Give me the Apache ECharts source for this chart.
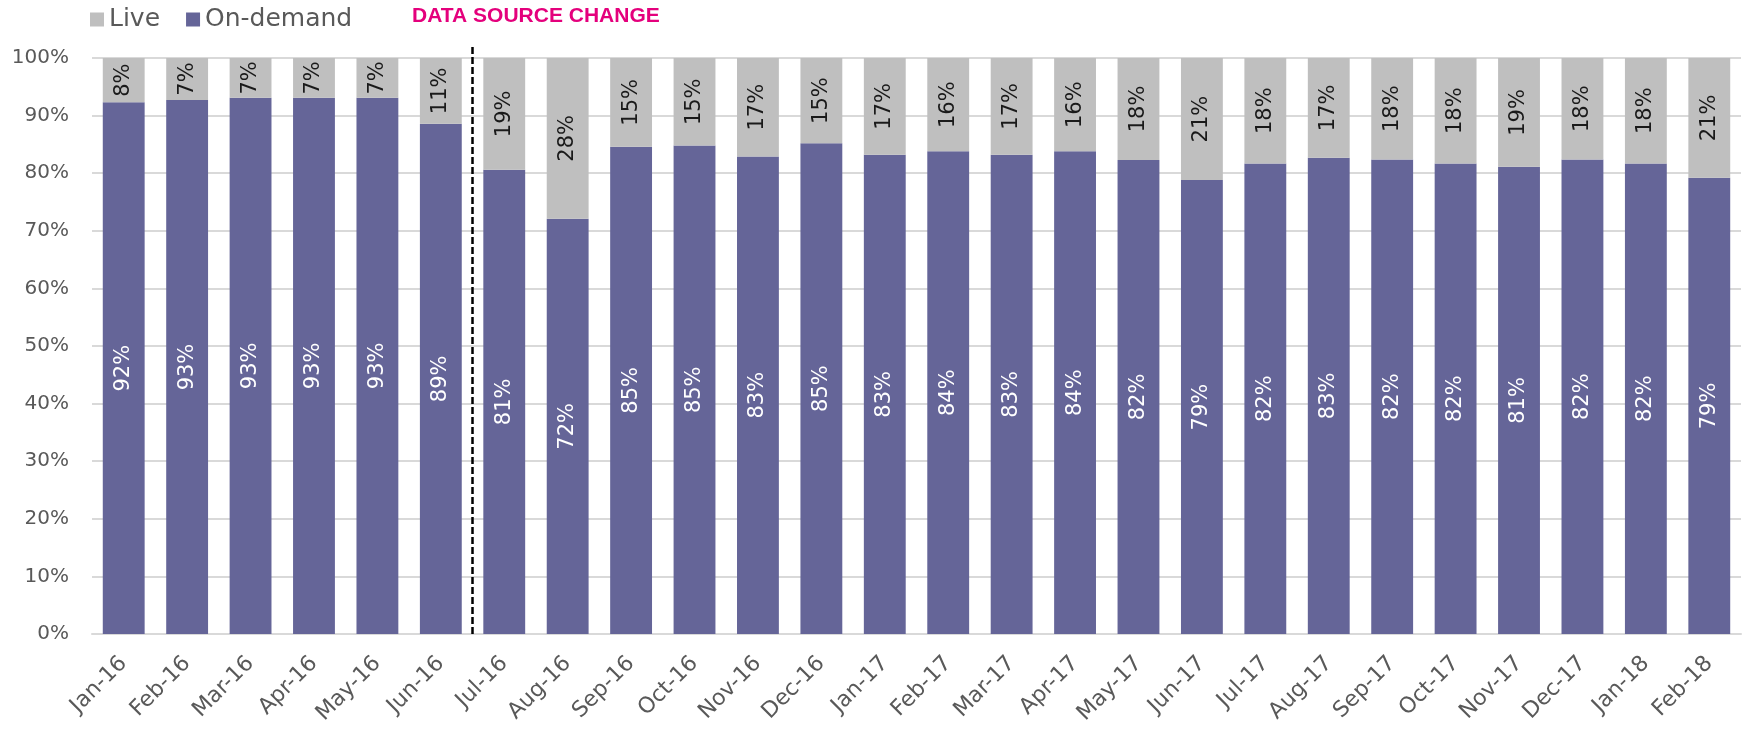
<!DOCTYPE html>
<html>
<head>
<meta charset="utf-8">
<script src="https://cdn.jsdelivr.net/npm/echarts@6/dist/echarts.min.js"></script>
<style>
html,body{margin:0;padding:0;background:#fff;}
#chart{width:1744px;height:733px;}
</style>
</head>
<body>
<div id="chart"></div>
<script>
const categories = ['Jan-16','Feb-16','Mar-16','Apr-16','May-16','Jun-16','Jul-16','Aug-16','Sep-16','Oct-16','Nov-16','Dec-16','Jan-17','Feb-17','Mar-17','Apr-17','May-17','Jun-17','Jul-17','Aug-17','Sep-17','Oct-17','Nov-17','Dec-17','Jan-18','Feb-18'];
const onDemand = [92.3,92.7,93.1,93.1,93.1,88.6,80.6,72.1,84.6,84.8,82.9,85.2,83.2,83.8,83.2,83.8,82.3,78.8,81.7,82.7,82.4,81.7,81.1,82.4,81.7,79.2];
const live = [7.7,7.3,6.9,6.9,6.9,11.4,19.4,27.9,15.4,15.2,17.1,14.8,16.8,16.2,16.8,16.2,17.7,21.2,18.3,17.3,17.6,18.3,18.9,17.6,18.3,20.8];
const yTicks = [0,10,20,30,40,50,60,70,80,90,100];
const changeIndex = 6; // data source change occurs before Jul-16
const changeLabel = 'DATA SOURCE CHANGE';

const FONT = 'DejaVu Sans';
const chart = echarts.init(document.getElementById('chart'));
chart.setOption({
  animation: false,
  textStyle: { fontFamily: FONT },
  title: {
    text: changeLabel,
    left: 407, top: 1,
    textStyle: { color: '#E4007C', fontWeight: 'bold', fontSize: 21, fontFamily: 'Liberation Sans' }
  },
  legend: {
    left: 85, top: 2,
    itemWidth: 14, itemHeight: 14, itemGap: 26,
    icon: 'rect',
    data: ['Live', 'On-demand'],
    textStyle: { color: '#595959', fontSize: 25, fontFamily: FONT, padding: [0,0,0,0] }
  },
  grid: [
    { left: 92, right: 3, top: 58, bottom: 99, containLabel: false },
    { left: 92, right: 3, top: 45, bottom: 99, containLabel: false }
  ],
  xAxis: [{
    type: 'category',
    gridIndex: 0,
    data: categories,
    axisLine: { lineStyle: { color: '#D9D9D9', width: 2 } },
    axisTick: { show: false },
    axisLabel: { rotate: 45, margin: 26, color: '#595959', fontSize: 22, fontFamily: FONT, interval: 0 }
  }, {
    type: 'value', gridIndex: 1, min: 0, max: categories.length, show: false
  }],
  yAxis: [{
    type: 'value', gridIndex: 0, min: yTicks[0], max: yTicks[yTicks.length-1], interval: 10,
    axisLine: { show: false }, axisTick: { show: false },
    splitLine: { lineStyle: { color: '#D9D9D9', width: 2 } },
    axisLabel: { formatter: '{value}%', color: '#595959', fontSize: 20, fontFamily: FONT, margin: 23 }
  }, {
    type: 'value', gridIndex: 1, min: 0, max: 1, show: false
  }],
  series: [{
    name: 'On-demand', type: 'bar', stack: 'total', data: onDemand,
    barCategoryGap: '34%',
    itemStyle: { color: '#656598' },
    label: {
      show: true, position: 'inside', rotate: 90,
      color: '#ffffff', fontSize: 21, fontFamily: FONT,
      formatter: p => Math.round(p.value) + '%'
    },
    z: 3
  }, {
    name: 'Live', type: 'bar', stack: 'total', data: live,
    barCategoryGap: '34%',
    itemStyle: { color: '#BFBFBF' },
    label: {
      show: true, position: 'inside', rotate: 90,
      color: '#1a1a1a', fontSize: 21, fontFamily: FONT,
      formatter: p => Math.round(p.value) + '%'
    },
    z: 3
  }, {
    name: 'change', type: 'scatter', xAxisIndex: 1, yAxisIndex: 1,
    data: [[changeIndex, 0]], symbolSize: 0, silent: true, z: 5,
    markLine: {
      silent: true, symbol: ['none','none'], label: { show: false },
      lineStyle: { color: '#000000', width: 2.5, type: [7,3] },
      data: [[{ coord: [changeIndex, 0] }, { coord: [changeIndex, 1] }]]
    }
  }]
});
</script>
</body>
</html>
